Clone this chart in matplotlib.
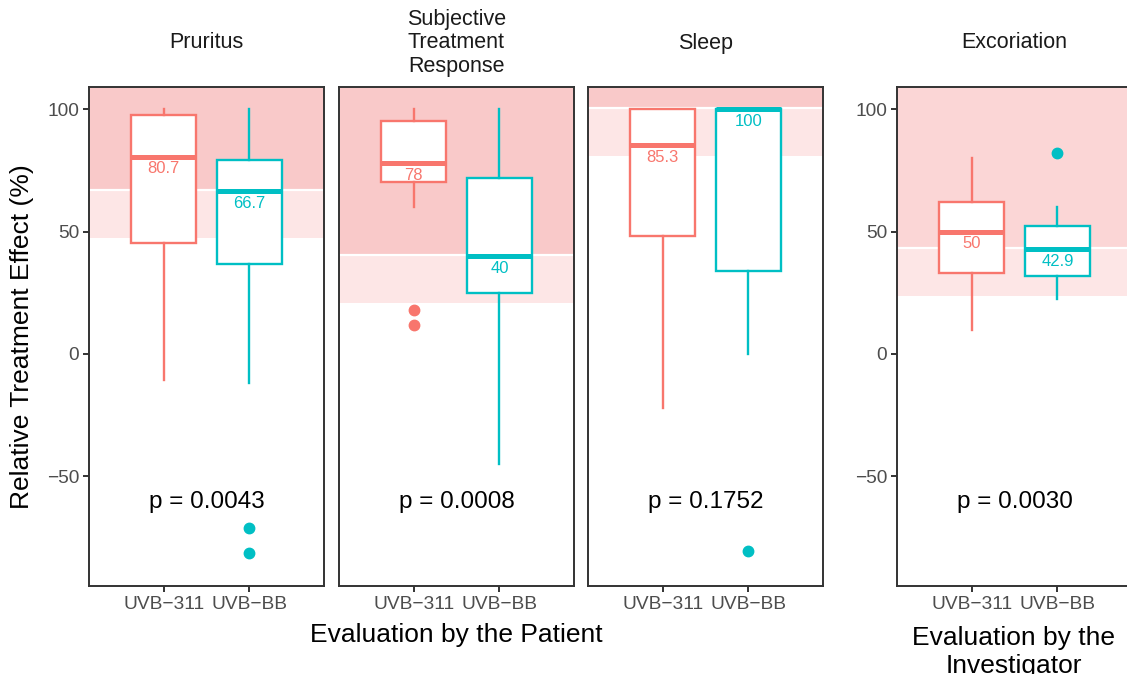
import matplotlib
matplotlib.use('Agg')
import matplotlib.pyplot as plt

plt.rcParams['font.family'] = ['Liberation Sans', 'DejaVu Sans']

# ---------------- data ----------------
panels = ['Pruritus', 'Subjective\nTreatment\nResponse', 'Sleep', 'Excoriation']
groups = ['UVB\u2212311', 'UVB\u2212BB']
q1 = [[45.4, 36.7], [70.3, 25.1], [48.3, 34.0], [33.2, 31.7]]
medians = [[80.7, 66.7], [78.0, 40.0], [85.3, 100.0], [50.0, 42.9]]
q3 = [[97.5, 79.2], [95.2, 71.8], [100.0, 100.0], [62.2, 52.2]]
whisker_low = [[-10.6, -11.8], [60.2, -45.0], [-22.0, 0.0], [10.0, 22.3]]
whisker_high = [[100.0, 100.0], [100.0, 100.0], [100.0, 100.0], [80.0, 60.0]]
outliers = [[[], [-71.0, -81.5]], [[18.0, 11.9], []], [[], [-80.5]], [[], [82.0]]]
median_labels = [['80.7', '66.7'], ['78', '40'], ['85.3', '100'], ['50', '42.9']]
p_values = ['p = 0.0043', 'p = 0.0008', 'p = 0.1752', 'p = 0.0030']
band_upper = [67.0, 40.3, 100.4, 43.2]
band_lower = [47.6, 20.7, 80.9, 23.5]
y_ticks = [-50, 0, 50, 100]

# ---------------- style ----------------
W, H = 1127, 674
colors = ['#F8766D', '#00BFC4']
dark_fill = ['#F9C9C9', '#F9C9C9', '#F9C9C9', '#FBD6D6']
light_fill = '#FDE6E6'
frame = '#333333'
tick_col = '#4D4D4D'
lefts = [89, 339, 588, 897]
pw = 235
top_px, bot_px = 87, 586

fig = plt.figure(figsize=(W / 100, H / 100), dpi=100)

for k, name in enumerate(panels):
    ax = fig.add_axes([lefts[k] / W, (H - bot_px) / H, pw / W, (bot_px - top_px) / H])
    ax.set_xlim(0.13, 2.87)
    ax.set_ylim(-94.8, 109.1)
    ax.axhspan(band_upper[k], 300, color=dark_fill[k], lw=0, zorder=0)
    ax.axhspan(band_lower[k], band_upper[k], color=light_fill, lw=0, zorder=0)
    ax.axhline(band_upper[k], color='white', lw=1.6, zorder=0.5)
    for g in range(2):
        c = colors[g]
        stats = [dict(med=medians[k][g], q1=q1[k][g], q3=q3[k][g],
                      whislo=whisker_low[k][g], whishi=whisker_high[k][g],
                      fliers=outliers[k][g])]
        ax.bxp(stats, positions=[g + 1], widths=0.75, patch_artist=True,
               showcaps=False, showfliers=True,
               boxprops=dict(facecolor='white', edgecolor=c, linewidth=1.7),
               medianprops=dict(color=c, linewidth=3.6, solid_capstyle='butt'),
               whiskerprops=dict(color=c, linewidth=1.7),
               flierprops=dict(marker='o', markerfacecolor=c, markeredgecolor=c,
                               markersize=7.5, linestyle='none'),
               zorder=2)
        ax.annotate(median_labels[k][g], (g + 1, medians[k][g]), xytext=(0, -3.5),
                    textcoords='offset points', ha='center', va='top',
                    color=c, fontsize=12, zorder=3)
    ax.text(1.5, -60.5, p_values[k], ha='center', va='center', fontsize=17.5,
            color='black', zorder=3)
    ax.set_xticks([1, 2])
    ax.set_xticklabels(groups, fontsize=13.8, color=tick_col)
    if k in (0, 3):
        ax.set_yticks(y_ticks)
        ax.set_yticklabels([f'{v}'.replace('-', '\u2212') for v in y_ticks],
                           fontsize=13.8, color=tick_col)
    else:
        ax.set_yticks([])
    ax.tick_params(direction='out', length=4, width=1.4, color=frame, pad=3)
    for s in ax.spines.values():
        s.set_color(frame)
        s.set_linewidth(1.4)
    ax.text(0.5, 1 + 44 / (bot_px - top_px), name, transform=ax.transAxes,
            ha='center', va='center', fontsize=15.5, linespacing=1.13, color='#1A1A1A')

fig.text(456 / W, 1 - 642 / H, 'Evaluation by the Patient', ha='center',
         va='baseline', fontsize=19)
fig.text(1014 / W, 1 - 673 / H, 'Evaluation by the\nInvestigator', ha='center',
         va='baseline', fontsize=19, linespacing=1.2)
fig.text(22 / W, 1 - 336.5 / H, 'Relative Treatment Effect (%)', rotation=90,
         ha='center', va='center', fontsize=19)

fig.savefig('out.png', dpi=100)
